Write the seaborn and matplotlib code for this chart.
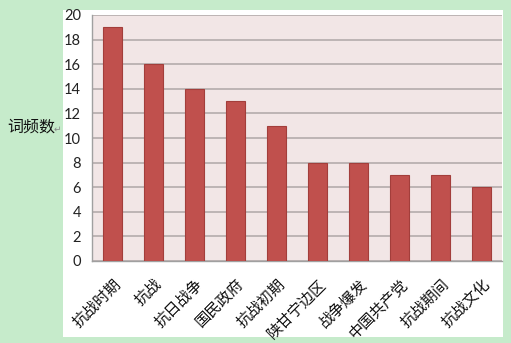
import matplotlib
matplotlib.use("Agg")
import matplotlib.pyplot as plt
import matplotlib.transforms as mtrans
import seaborn as sns
import pandas as pd
from matplotlib.patches import Rectangle

categories = ["抗战时期", "抗战", "抗日战争", "国民政府", "抗战初期", "陕甘宁边区", "战争爆发", "中国共产党", "抗战期间", "抗战文化"]
counts = [19, 16, 14, 13, 11, 8, 8, 7, 7, 6]
yticks = [0, 2, 4, 6, 8, 10, 12, 14, 16, 18, 20]
ylabel = "词频数"

sns.set_theme(style="white")
plt.rcParams['font.family'] = ['Noto Sans CJK SC', 'DejaVu Sans']

W, H = 511, 343
fig = plt.figure(figsize=(W / 100, H / 100), dpi=100)
fig.patch.set_facecolor("#c6ebcb")
fig.patches.append(Rectangle((63 / W, 1 - 337 / H), (503 - 63) / W, (337 - 10) / H,
                             transform=fig.transFigure, facecolor="white", edgecolor="none", zorder=-5))

ax = fig.add_axes([92 / W, 1 - 261 / H, (502 - 92) / W, (261 - 15) / H])
ax.set_zorder(2)
ax.set_facecolor("#f2e6e6")

df = pd.DataFrame({"cat": categories, "n": counts})
sns.barplot(data=df, x="cat", y="n", ax=ax, color="#c0504d", saturation=1, width=0.44,
            edgecolor="#a33e3b", linewidth=0.8, zorder=3)

ax.set_ylim(0, 20)
ax.set_xlim(-0.5, len(categories) - 0.5)
ax.set_yticks(yticks)
ax.yaxis.grid(True, color="#b4acac", linewidth=1.2, zorder=0)
ax.set_axisbelow(True)
ax.set_xlabel("")
ax.set_ylabel("")

for s in ["top", "right"]:
    ax.spines[s].set_visible(False)
for s in ["left", "bottom"]:
    ax.spines[s].set_color("#a0a0a0")
    ax.spines[s].set_linewidth(1)

ax.tick_params(axis="y", which="major", length=3.5, color="#a0a0a0", width=1, pad=4.5, labelsize=10.5)
for t in ax.get_yticklabels():
    t.set_fontfamily(["Lato", "DejaVu Sans"])
    t.set_color("#222222")

ax.set_xticks(range(len(categories)))
ax.set_xticklabels(categories, rotation=45, ha="right", va="center", rotation_mode="anchor",
                   fontsize=11, color="#111111")
ax.tick_params(axis="x", which="major", length=0, pad=15)
shift = mtrans.ScaledTranslation(6 / 100, 0, fig.dpi_scale_trans)
for t in ax.get_xticklabels():
    t.set_transform(t.get_transform() + shift)
ax.set_xticks([i - 0.5 for i in range(len(categories) + 1)], minor=True)
ax.tick_params(axis="x", which="minor", length=5, color="#a0a0a0", width=1)

fig.text(7 / W, 1 - 127 / H, ylabel, fontsize=11.5, va="center", ha="left", color="#111111")
fig.text(54 / W, 1 - 129 / H, "↵", fontsize=6.5, va="center", ha="left", color="#888888",
         family=["DejaVu Sans"])

fig.savefig("out.png", dpi=100, facecolor=fig.get_facecolor())
